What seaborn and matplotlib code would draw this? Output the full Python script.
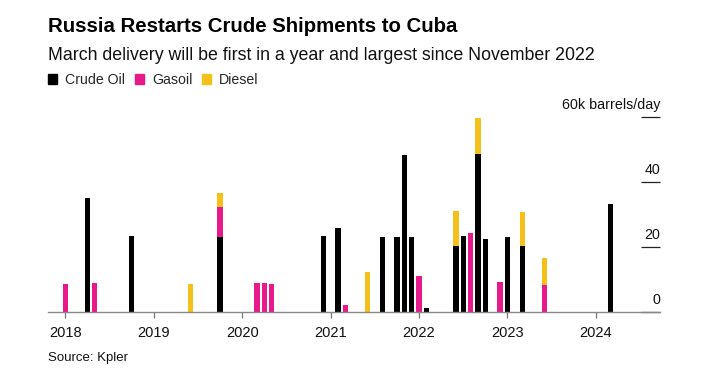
import numpy as np
import pandas as pd
import matplotlib.pyplot as plt
import seaborn as sns
from matplotlib.patches import Patch

# ----------------------- data (k barrels/day, monthly) -----------------------

crude_months = ["2018-04", "2018-10", "2019-10", "2020-12", "2021-02", "2021-08",
                "2021-10", "2021-11", "2021-12", "2022-02", "2022-06", "2022-07",
                "2022-09", "2022-10", "2023-01", "2023-03", "2024-03"]
crude_kbd = [35.2, 23.5, 23.3, 23.5, 26.0, 23.2, 23.2, 48.5, 23.2, 1.3, 20.4, 23.5,
             48.7, 22.6, 23.2, 20.4, 33.3]

gasoil_months = ["2018-01", "2018-05", "2019-10", "2020-03", "2020-04", "2020-05",
                 "2021-03", "2022-01", "2022-08", "2022-12", "2023-06"]
gasoil_kbd = [8.8, 9.1, 9.0, 9.0, 9.0, 8.8, 2.3, 11.3, 24.5, 9.4, 8.4]

diesel_months = ["2019-06", "2019-10", "2021-06", "2022-06", "2022-09", "2023-03", "2023-06"]
diesel_kbd = [8.7, 4.3, 12.3, 10.8, 11.1, 10.5, 8.3]

years = [2018, 2019, 2020, 2021, 2022, 2023, 2024]

CRUDE_COLOR = "#000000"
GASOIL_COLOR = "#e8198b"
DIESEL_COLOR = "#f5c01a"

# ----------------------- build table -----------------------------------------

start = pd.Period("2018-01", freq="M")


def month_index(months):
    return [(pd.Period(m, freq="M") - start).n for m in months]


df = pd.DataFrame({"m": np.arange(0, 75)})
df["crude"] = 0.0
df["gasoil"] = 0.0
df["diesel"] = 0.0
df.loc[month_index(crude_months), "crude"] = crude_kbd
df.loc[month_index(gasoil_months), "gasoil"] = gasoil_kbd
df.loc[month_index(diesel_months), "diesel"] = diesel_kbd

# stacked via overlapping cumulative layers
df["lvl_gasoil"] = df["crude"] + df["gasoil"]
df["lvl_diesel"] = df["lvl_gasoil"] + df["diesel"]

# ----------------------- plot -------------------------------------------------

sns.set_style("white")
plt.rcParams["font.family"] = ["Liberation Sans", "DejaVu Sans"]

fig = plt.figure(figsize=(7.11, 3.77), dpi=100)
ax = fig.add_axes([48 / 711, 1 - 312.3 / 377, (660 - 48) / 711, (312.3 - 117.3) / 377])

for col, color in [("lvl_diesel", DIESEL_COLOR), ("lvl_gasoil", GASOIL_COLOR), ("crude", CRUDE_COLOR)]:
    sns.barplot(data=df, x="m", y=col, native_scale=True, color=color, saturation=1,
                width=0.72, errorbar=None, linewidth=0, ax=ax)

ax.set_xlim(-2.35, 80.7)
ax.set_ylim(0, 60)
ax.set_xlabel("")
ax.set_ylabel("")

ax.set_xticks([(y - 2018) * 12 for y in years])
ax.set_xticklabels([str(y) for y in years], fontsize=10.5, color="#111111")
ax.tick_params(axis="x", bottom=True, direction="out", length=4, width=0.9,
               color="#777777", pad=6)

ax.set_yticks([0, 20, 40, 60])
ax.yaxis.tick_right()
ax.tick_params(axis="y", right=True, left=False, direction="in", length=13.7, width=0.9,
               color="#222222", labelright=False, labelleft=False)

for s in ["top", "left", "right"]:
    ax.spines[s].set_visible(False)
ax.spines["bottom"].set_color("#888888")
ax.spines["bottom"].set_linewidth(1.0)

for v in [0, 20, 40, 60]:
    label = "60k barrels/day" if v == 60 else str(v)
    ax.annotate(label, xy=(1, v), xycoords=("axes fraction", "data"), xytext=(0, 4),
                textcoords="offset points", ha="right", va="bottom", fontsize=10.3,
                color="#111111")

# titles & legend
fig.text(48 / 711, 1 - 27 / 377, "Russia Restarts Crude Shipments to Cuba",
         fontsize=14.7, fontweight="bold", ha="left", va="center", color="#000000")
fig.text(48 / 711, 1 - 56 / 377,
         "March delivery will be first in a year and largest since November 2022",
         fontsize=12.8, ha="left", va="center", color="#111111")

handles = [Patch(color=CRUDE_COLOR, label="Crude Oil"),
           Patch(color=GASOIL_COLOR, label="Gasoil"),
           Patch(color=DIESEL_COLOR, label="Diesel")]
fig.legend(handles=handles, loc="center left", bbox_to_anchor=(48 / 711, 1 - 80 / 377),
           ncol=3, frameon=False, fontsize=10.2, handlelength=0.65, handleheight=0.65,
           handletextpad=0.55, columnspacing=0.7, borderpad=0, borderaxespad=0)

fig.text(48 / 711, 1 - 358 / 377, "Source: Kpler", fontsize=9.5, ha="left", va="center",
         color="#111111")

fig.savefig("out.png", dpi=100)
plt.close(fig)
